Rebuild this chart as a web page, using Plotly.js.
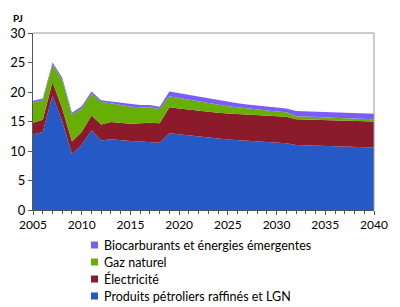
<!DOCTYPE html>
<html>
<head>
<meta charset="utf-8">
<script src="https://cdn.plot.ly/plotly-3.0.1.min.js"></script>
<style>
  html, body { margin: 0; padding: 0; background: #fff; }
  #chart { width: 400px; height: 307px; }
</style>
</head>
<body>
<div id="chart"></div>
<script>
// années
const years = [2005, 2006, 2007, 2008, 2009, 2010, 2011, 2012, 2013, 2014, 2015, 2016,
  2017, 2018, 2019, 2020, 2021, 2022, 2023, 2024, 2025, 2026, 2027, 2028, 2029, 2030,
  2031, 2032, 2033, 2034, 2035, 2036, 2037, 2038, 2039, 2040];

// PJ par source (empilées)
const petrole = [12.8, 13.2, 19.4, 15.0, 9.5, 11.0, 13.5, 11.8, 12.0, 11.8, 11.7, 11.6,
  11.5, 11.4, 13.0, 12.8, 12.6, 12.4, 12.25, 12.1, 11.95, 11.85, 11.7, 11.6, 11.5, 11.4,
  11.3, 11.0, 10.95, 10.9, 10.85, 10.8, 10.75, 10.7, 10.65, 10.6];
const electricite = [2.0, 2.1, 2.3, 2.2, 2.1, 2.2, 2.5, 2.7, 2.9, 2.9, 2.9, 3.1,
  3.3, 3.3, 4.4, 4.4, 4.4, 4.4, 4.4, 4.4, 4.4, 4.4, 4.45, 4.45, 4.45, 4.45,
  4.5, 4.4, 4.4, 4.4, 4.4, 4.4, 4.4, 4.4, 4.4, 4.4];
const gaz = [3.4, 3.3, 2.9, 4.8, 4.5, 4.0, 3.7, 3.8, 3.2, 3.1, 2.9, 2.7,
  2.6, 2.4, 1.9, 1.8, 1.7, 1.6, 1.45, 1.35, 1.25, 1.15, 1.05, 0.95, 0.9, 0.85,
  0.75, 0.5, 0.5, 0.45, 0.45, 0.4, 0.4, 0.4, 0.4, 0.4];
const biocarburants = [0.3, 0.3, 0.4, 0.4, 0.4, 0.4, 0.4, 0.3, 0.3, 0.4, 0.4, 0.4,
  0.4, 0.4, 0.8, 0.8, 0.8, 0.8, 0.8, 0.75, 0.75, 0.7, 0.7, 0.7, 0.65, 0.65,
  0.65, 0.9, 0.9, 0.9, 0.9, 0.9, 0.9, 0.9, 0.9, 0.9];

const names = ['Produits pétroliers raffinés et LGN', 'Électricité', 'Gaz naturel',
  'Biocarburants et énergies émergentes'];
const colors = ['#2459c6', '#8b1a2b', '#67ae05', '#7b5cfb'];
const series = [petrole, electricite, gaz, biocarburants];

const traces = series.map((vals, i) => ({
  x: years,
  y: vals,
  name: names[i],
  type: 'scatter',
  mode: 'lines',
  stackgroup: 'one',
  line: { width: 0, color: colors[i] },
  fillcolor: colors[i],
  hoverinfo: 'skip'
}));

const font = { family: 'Lato, "Open Sans", sans-serif', size: 12, color: '#000' };

// plot area in pixels: left 33, right 374, top 33, bottom 210
const W = 341, H = 177;
const px = x => (x - 33) / W;
const py = y => (210 - y) / H;

// legend drawn below the plot, top item = last series
const shapes = [
  { type: 'line', xref: 'paper', yref: 'paper', x0: 0, x1: 1, y0: 1, y1: 1,
    line: { color: '#999', width: 1 } },
  { type: 'line', xref: 'paper', yref: 'paper', x0: 1, x1: 1, y0: 0, y1: 1,
    line: { color: '#999', width: 1 } }
];
const annotations = [
  { text: '<b>PJ</b>', xref: 'paper', yref: 'paper', x: -0.045, y: 1.04,
    xanchor: 'center', yanchor: 'bottom', showarrow: false,
    font: { family: font.family, size: 10, color: '#000' } }
];
const rowTop = 245, rowGap = 17;
for (let k = 0; k < names.length; k++) {
  const i = names.length - 1 - k;
  const yc = rowTop + k * rowGap;
  shapes.push({ type: 'rect', xref: 'paper', yref: 'paper',
    x0: px(91), x1: px(98), y0: py(yc + 3.5), y1: py(yc - 3.5),
    fillcolor: colors[i], line: { width: 0 } });
  annotations.push({ text: names[i], xref: 'paper', yref: 'paper',
    x: px(102), y: py(yc), xanchor: 'left', yanchor: 'middle', showarrow: false,
    font: { family: font.family, size: 12.5, color: '#000' } });
}

Plotly.newPlot('chart', traces, {
  width: 400,
  height: 307,
  margin: { l: 33, r: 26, t: 33, b: 97 },
  paper_bgcolor: '#fff',
  plot_bgcolor: '#fff',
  font: font,
  showlegend: false,
  xaxis: {
    range: [2005, 2040],
    tickmode: 'linear', tick0: 2005, dtick: 5,
    ticks: 'outside', ticklen: 4, tickcolor: '#555',
    minor: { dtick: 1, ticks: 'outside', ticklen: 3, tickcolor: '#555' },
    showline: true, linecolor: '#555', linewidth: 1,
    showgrid: false, zeroline: false,
    tickfont: { family: font.family, size: 12, color: '#000' }
  },
  yaxis: {
    range: [0, 30],
    tickmode: 'linear', tick0: 0, dtick: 5,
    ticks: 'outside', ticklen: 4, tickcolor: '#555',
    showline: true, linecolor: '#555', linewidth: 1,
    showgrid: false, zeroline: false,
    tickfont: { family: font.family, size: 13, color: '#000' }
  },
  shapes: shapes,
  annotations: annotations
}, { displayModeBar: false, staticPlot: true });
</script>
</body>
</html>
